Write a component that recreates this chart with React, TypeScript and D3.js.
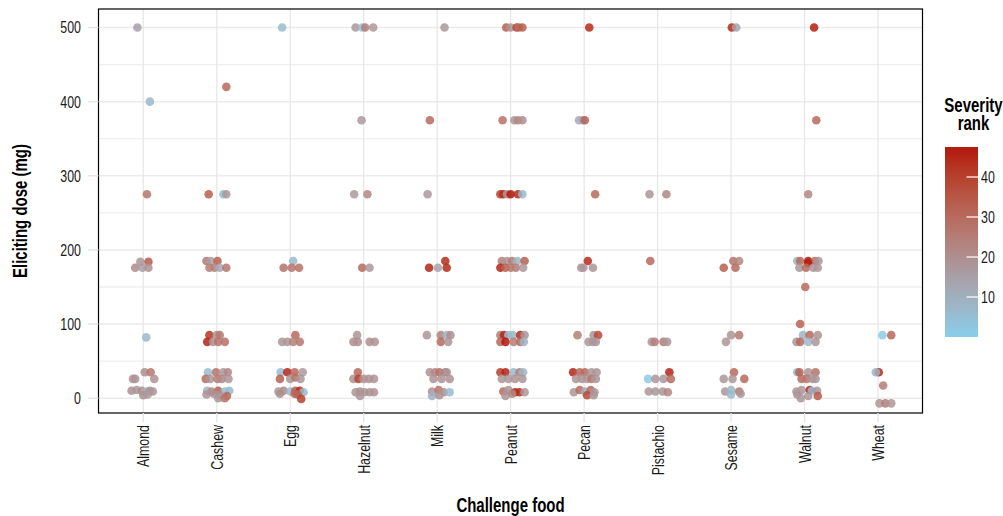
import * as d3 from "d3";

const W = 1003;
const H = 516;

const foods = ["Almond", "Cashew", "Egg", "Hazelnut", "Milk", "Peanut", "Pecan", "Pistachio", "Sesame", "Walnut", "Wheat"];
const doseTicks = [0, 100, 200, 300, 400, 500];
const doseMinor = [50, 150, 250, 350, 450];
const severityTicks = [10, 20, 30, 40];

// [jitter (in category steps), eliciting dose mg, severity rank]
const almond = [
  [-0.08, 500, 15], [0.09, 400, 7], [0.05, 275, 27], [-0.04, 184, 18], [0.07, 184, 34],
  [-0.11, 176, 21], [-0.01, 176, 16], [0.07, 176, 19], [0.04, 82, 7], [0.02, 35, 20],
  [0.1, 35, 26], [-0.14, 26, 19], [-0.11, 26, 18], [0.15, 26, 19], [-0.16, 10, 19],
  [-0.09, 11, 18], [-0.02, 10, 20], [0.05, 9, 8], [0.09, 10, 19], [0.13, 9, 18],
  [0, 4, 19], [0.06, 5, 17],
];
const cashew = [
  [0.13, 420, 30], [-0.11, 275, 33], [0.09, 275, 5], [0.13, 275, 17], [-0.14, 185, 26],
  [-0.08, 185, 15], [0.01, 185, 33], [-0.1, 176, 25], [-0.03, 176, 24], [0.04, 176, 12],
  [0.13, 176, 27], [-0.1, 85, 42], [0, 85, 18], [0.04, 85, 26], [-0.13, 76, 45],
  [-0.05, 76, 20], [0.02, 76, 27], [0.11, 76, 28], [-0.12, 35, 5], [-0.01, 35, 27],
  [0.09, 35, 17], [0.15, 35, 22], [-0.15, 26, 30], [-0.09, 26, 18], [0.01, 26, 25],
  [0.07, 26, 22], [0.16, 26, 18], [-0.13, 10, 10], [-0.07, 9, 21], [0.02, 10, 33],
  [0.11, 9, 6], [0.17, 10, 6], [-0.14, 5, 18], [-0.04, 6, 20], [0.04, 4, 19],
  [0.14, 3, 30], [0.02, 0, 18], [0.11, 0, 28],
];
const egg = [
  [-0.11, 500, 6], [0.04, 185, 6], [-0.09, 176, 28], [0.02, 176, 27], [0.12, 176, 28],
  [0.07, 85, 30], [-0.11, 76, 18], [-0.04, 76, 18], [0.04, 76, 23], [0.13, 76, 26],
  [-0.13, 35, 6], [-0.04, 35, 45], [0.06, 35, 30], [0.17, 35, 17], [-0.14, 26, 33],
  [0, 26, 18], [0.07, 28, 28], [0.14, 26, 18], [-0.16, 9, 18], [-0.09, 10, 22],
  [0, 9, 6], [0.07, 10, 33], [0.13, 10, 44], [0.18, 8, 6], [-0.14, 6, 20],
  [0.06, 6, 30], [0.1, 5, 32], [0.15, -1, 40],
];
const hazelnut = [
  [-0.11, 500, 17], [-0.02, 500, 3], [0.02, 500, 25], [0.13, 500, 17], [-0.03, 375, 17],
  [-0.13, 275, 17], [0.05, 275, 22], [-0.02, 176, 30], [0.08, 176, 17], [-0.09, 85, 18],
  [-0.14, 76, 20], [-0.08, 76, 20], [0.08, 76, 20], [0.15, 76, 19], [-0.08, 35, 30],
  [-0.14, 26, 19], [-0.07, 26, 40], [0, 26, 19], [0.07, 26, 19], [0.14, 26, 19],
  [-0.11, 8, 19], [-0.05, 9, 20], [0.01, 8, 18], [0.08, 8, 19], [0.14, 8, 19],
  [-0.05, 3, 18],
];
const milk = [
  [0.1, 500, 17], [-0.1, 375, 30], [-0.13, 275, 17], [0.11, 185, 44], [-0.11, 176, 45],
  [0.01, 176, 14], [0.13, 176, 44], [-0.14, 85, 18], [0.05, 85, 24], [0.13, 85, 7],
  [0.18, 85, 20], [0.05, 76, 30], [0.15, 76, 18], [-0.1, 35, 19], [-0.03, 35, 22],
  [0.03, 35, 28], [0.11, 35, 25], [0.13, 35, 18], [-0.05, 26, 19], [0.06, 26, 19],
  [0.17, 26, 19], [-0.07, 9, 19], [0.02, 11, 28], [0.09, 8, 20], [0.17, 8, 6],
  [-0.07, 3, 9], [0.03, 4, 19],
];
const peanut = [
  [-0.06, 500, 33], [0, 500, 18], [0.08, 500, 38], [0.11, 500, 30], [0.16, 500, 33],
  [-0.11, 375, 28], [0.05, 375, 18], [0.1, 375, 22], [0.16, 375, 20],
  [-0.14, 275, 40], [-0.1, 275, 44], [-0.05, 275, 18], [0, 275, 47], [0.1, 275, 44], [0.16, 275, 7],
  [-0.12, 185, 24], [-0.05, 185, 18], [0.02, 185, 25], [0.09, 185, 8], [0.19, 185, 33],
  [-0.14, 176, 45], [-0.07, 176, 33], [0, 176, 27], [0.07, 176, 25], [0.17, 176, 18],
  [-0.14, 85, 24], [-0.09, 85, 45], [-0.03, 85, 6], [0.03, 85, 7], [0.13, 85, 44], [0.19, 85, 18],
  [-0.14, 76, 30], [-0.07, 76, 47], [0.04, 76, 25], [0.13, 76, 30], [0.18, 76, 8],
  [-0.14, 35, 40], [-0.07, 35, 45], [0.04, 35, 6], [0.12, 35, 24], [0.17, 35, 8],
  [-0.12, 26, 18], [-0.03, 26, 18], [0.06, 26, 19], [0.16, 26, 18],
  [-0.1, 9, 30], [-0.03, 11, 18], [0.06, 8, 45], [0.12, 8, 44], [0.19, 8, 18],
  [-0.07, 3, 18], [0.02, 6, 22],
];
const pecan = [
  [0.07, 500, 44], [-0.07, 375, 11], [-0.02, 375, 12], [0.01, 375, 32], [0.15, 275, 30],
  [0.05, 185, 44], [-0.04, 176, 18], [-0.01, 176, 18], [0.12, 176, 18],
  [-0.09, 85, 24], [0.13, 85, 18], [0.19, 85, 38], [0.06, 76, 18], [0.12, 76, 18], [0.16, 76, 18],
  [-0.15, 35, 45], [-0.06, 35, 30], [0.01, 35, 30], [0.1, 35, 18], [0.17, 35, 18],
  [-0.11, 26, 19], [-0.03, 26, 19], [0.04, 26, 18], [0.1, 26, 26], [0.16, 26, 18],
  [-0.14, 8, 18], [-0.06, 11, 30], [0.01, 9, 12], [0.09, 11, 30], [0.14, 8, 18],
  [0.04, 4, 38], [0.13, 4, 18],
];
const pistachio = [
  [-0.11, 275, 18], [0.12, 275, 22], [-0.1, 185, 30], [-0.08, 76, 18], [-0.04, 76, 24],
  [0.08, 76, 25], [0.13, 76, 18], [0.16, 35, 45], [-0.13, 26, 1], [-0.03, 26, 18],
  [0.08, 26, 18], [0.18, 26, 30], [-0.12, 9, 18], [-0.03, 9, 18], [0.07, 9, 18],
  [0.14, 8, 22],
];
const sesame = [
  [0.01, 500, 44], [0.07, 500, 14], [0.03, 185, 27], [0.11, 185, 22], [-0.1, 176, 33],
  [0.06, 176, 30], [0, 85, 18], [0.11, 85, 26], [-0.07, 76, 18], [0.04, 35, 30],
  [-0.1, 26, 18], [0.02, 26, 18], [0.18, 26, 30], [-0.08, 9, 18], [0, 11, 7],
  [0.11, 9, 27], [0, 5, 7], [0.13, 6, 18],
];
const walnut = [
  [0.13, 500, 46], [0.16, 375, 30], [0.05, 275, 22],
  [-0.1, 185, 8], [-0.06, 185, 30], [0.05, 185, 47], [0.14, 185, 30], [0.19, 185, 18], [0.05, 182, 46],
  [-0.07, 176, 18], [0.02, 176, 30], [0.12, 176, 18], [0.18, 176, 18],
  [0.01, 150, 30], [-0.06, 100, 32],
  [-0.02, 85, 8], [0.07, 85, 30], [0.18, 85, 18],
  [-0.11, 76, 18], [-0.06, 76, 30], [0.05, 76, 7], [0.15, 76, 18],
  [-0.1, 35, 6], [-0.07, 35, 33], [0.05, 35, 18], [0.15, 35, 28],
  [-0.04, 26, 30], [0.03, 26, 27], [0.11, 26, 18], [0.15, 26, 18],
  [-0.11, 9, 18], [-0.04, 11, 18], [0.07, 11, 45], [0.1, 10, 6], [0.17, 10, 18],
  [-0.1, 5, 18], [0.05, 3, 18], [0.18, 3, 34], [-0.05, 0, 18],
];
const wheat = [
  [0.06, 85, 1], [0.18, 85, 30], [0.01, 35, 44], [-0.03, 35, 8], [0.07, 17, 25],
  [0.02, -7, 18], [0.1, -7, 25], [0.18, -7, 18],
];

const pointsByFood = [almond, cashew, egg, hazelnut, milk, peanut, pecan, pistachio, sesame, walnut, wheat];

const FONT = "'Liberation Sans', Arial, sans-serif";

const panel = { left: 98.5, right: 922.5, top: 9, bottom: 413 };

// condensed text: regular sans squeezed horizontally
function NText({ x, y, rotate = 0, anchor = "start", size, bold = false, dy = "0", squeeze = 0.75, children }: any) {
  return (
    <text
      transform={`translate(${x}, ${y}) rotate(${rotate}) scale(${squeeze}, 1)`}
      textAnchor={anchor}
      dy={dy}
      fontSize={size}
      fontWeight={bold ? "bold" : "normal"}
      fill={bold ? "#000" : "#1a1a1a"}
    >
      {children}
    </text>
  );
}

export default function App() {
  const x = d3.scalePoint<string>().domain(foods).range([99.2, 922.1]).padding(0.6);
  const step = x.step();
  const y = d3.scaleLinear().domain([-20, 525]).range([panel.bottom, panel.top]);

  const colour = d3
    .scaleLinear<string>()
    .domain([0, 16, 47])
    .range(["#87CEEB", "#A99CA3", "#B3140C"])
    .interpolate(d3.interpolateLab);

  const legendY = d3.scaleLinear().domain([0, 47.5]).range([337, 147]);
  const gradStops = d3.range(0, 48, 2);

  const points = pointsByFood.flatMap((list, i) =>
    list.map(([j, dose, sev]) => ({ food: foods[i], j, dose, sev }))
  );

  return (
    <svg width={W} height={H} style={{ position: "absolute", left: 0, top: 0, background: "#fff" }} fontFamily={FONT}>
      <defs>
        <linearGradient id="sevGrad" x1="0" y1="1" x2="0" y2="0">
          {gradStops.map((v) => (
            <stop key={v} offset={v / 47.5} stopColor={colour(v)} />
          ))}
        </linearGradient>
      </defs>

      {/* grid */}
      {doseMinor.map((d) => (
        <line key={"mn" + d} x1={panel.left} x2={panel.right} y1={y(d)} y2={y(d)} stroke="#efefef" strokeWidth={1.3} />
      ))}
      {doseTicks.map((d) => (
        <line key={"mj" + d} x1={panel.left} x2={panel.right} y1={y(d)} y2={y(d)} stroke="#ebebeb" strokeWidth={1.5} />
      ))}
      {foods.map((f) => (
        <line key={"v" + f} x1={x(f)} x2={x(f)} y1={panel.top} y2={panel.bottom} stroke="#e6e6e6" strokeWidth={1.2} />
      ))}

      {/* points */}
      {points.map((p, i) => (
        <circle
          key={i}
          cx={(x(p.food) as number) + p.j * step}
          cy={y(p.dose)}
          r={4.3}
          fill={colour(p.sev)}
          fillOpacity={0.85}
        />
      ))}

      <rect
        x={panel.left}
        y={panel.top}
        width={panel.right - panel.left}
        height={panel.bottom - panel.top}
        fill="none"
        stroke="#000"
        strokeWidth={1.2}
      />

      {/* y axis */}
      {doseTicks.map((d) => (
        <g key={"yt" + d}>
          <line x1={88} x2={panel.left} y1={y(d)} y2={y(d)} stroke="#e3e3e3" strokeWidth={1.3} />
          <NText x={81} y={y(d)} dy="0.36em" anchor="end" size={16.5}>
            {d}
          </NText>
        </g>
      ))}
      <NText x={27} y={(panel.top + panel.bottom) / 2} rotate={-90} anchor="middle" size={20} bold>
        Eliciting dose (mg)
      </NText>

      {/* x axis */}
      {foods.map((f) => (
        <g key={"xt" + f}>
          <line x1={x(f)} x2={x(f)} y1={panel.bottom} y2={panel.bottom + 9} stroke="#e3e3e3" strokeWidth={1.3} />
          <NText x={x(f)} y={425} rotate={-90} dy="0.36em" anchor="end" size={16.5}>
            {f}
          </NText>
        </g>
      ))}
      <NText x={(panel.left + panel.right) / 2} y={512} anchor="middle" size={20} bold>
        Challenge food
      </NText>

      {/* legend */}
      <NText x={973.5} y={112} anchor="middle" size={20} bold>
        Severity
      </NText>
      <NText x={973.5} y={130} anchor="middle" size={20} bold>
        rank
      </NText>
      <rect x={945} y={147} width={33} height={190} fill="url(#sevGrad)" />
      {severityTicks.map((t) => (
        <g key={"st" + t}>
          <line x1={966.5} x2={978} y1={legendY(t)} y2={legendY(t)} stroke="#fff" strokeWidth={1.2} />
          <NText x={981} y={legendY(t)} dy="0.36em" size={16.5}>
            {t}
          </NText>
        </g>
      ))}
    </svg>
  );
}
